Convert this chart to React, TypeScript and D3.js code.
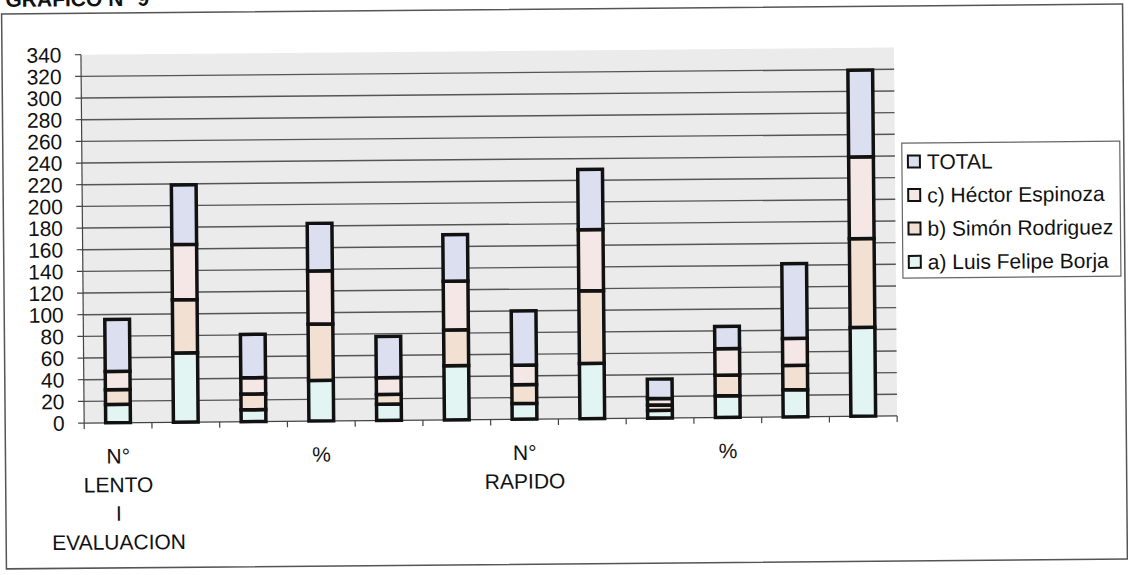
import React from "react";
import * as d3 from "d3";

// ---- data ----
const categoryLabels: string[][] = [
  ["N°", "LENTO", "I", "EVALUACION"], [], [],
  ["%"], [], [],
  ["N°", "RAPIDO"], [], [],
  ["%"], [], [],
];
const seriesNames = ["a) Luis Felipe Borja", "b) Simón Rodriguez", "c) Héctor Espinoza", "TOTAL"];
const luisFelipeBorja = [17, 64, 11, 37.5, 15, 50, 14.5, 51, 7, 20, 25, 82];
const simonRodriguez = [13.5, 49, 14.5, 52, 9, 33, 17.5, 67, 5, 19, 22.5, 82];
const hectorEspinoza = [17, 51, 15, 49, 15.5, 45, 18, 56.5, 6, 24.5, 25, 75.5];
const total = [48, 55, 40, 44, 38, 43, 50, 55.5, 18, 20.5, 69, 80];
const yTicks = [0, 20, 40, 60, 80, 100, 120, 140, 160, 180, 200, 220, 240, 260, 280, 300, 320, 340];
const seriesColors = ["#e3f5f3", "#f2e1d3", "#f5e7e6", "#dcdfef"];
const title = "GRAFICO N° 9";

const W = 1128;
const H = 575;
const FONT = "'Liberation Sans', Arial, sans-serif";

export default function App() {
  const plotL = 83, plotR = 896, plotT = 50.5, plotB = 418.85;
  const idx = categoryLabels.map((_, i) => String(i));
  const x = d3.scaleBand<string>().domain(idx).range([plotL, plotR]).paddingInner(0).paddingOuter(0);
  const y = d3.scaleLinear().domain([0, 340]).range([plotB, plotT]);
  const rows = idx.map((k, i) => ({
    k,
    s0: luisFelipeBorja[i],
    s1: simonRodriguez[i],
    s2: hectorEspinoza[i],
    s3: total[i],
  }));
  const stack = d3.stack<any>().keys(["s0", "s1", "s2", "s3"]);
  const layers = stack(rows);
  const bw = x.bandwidth() * 0.365;

  const legendItems = [3, 2, 1, 0];
  const legX = 903, legY = 146, legW = 218, legH = 135;

  return (
    <svg width={W} height={H} style={{ position: "absolute", left: 0, top: 0, background: "#fff" }} fontFamily={FONT}>
      <rect x={0} y={0} width={W} height={H} fill="#fff" />
      <g transform="rotate(-0.5 564 287)">
        <text x={8} y={2} fontSize={21} fontWeight="bold" fill="#111">{title}</text>
        {/* outer frame */}
        <rect x={4} y={9} width={1121} height={555} fill="none" stroke="#555" strokeWidth={1.5} />
        {/* plot area */}
        <rect x={plotL} y={plotT} width={plotR - plotL} height={plotB - plotT} fill="#ebebeb" />
        {yTicks.filter(t => t > 0 && t < 340).map(t => (
          <line key={"g" + t} x1={plotL} x2={plotR} y1={y(t)} y2={y(t)} stroke="#555" strokeWidth={1.4} />
        ))}
        {/* y axis */}
        <line x1={plotL} x2={plotL} y1={plotT} y2={plotB} stroke="#444" strokeWidth={1.2} />
        {yTicks.map(t => (
          <g key={"t" + t}>
            <line x1={plotL - 6} x2={plotL} y1={y(t)} y2={y(t)} stroke="#444" strokeWidth={1.2} />
            <text x={63.5} y={y(t)} dy="0.36em" textAnchor="end" fontSize={21} fill="#111">{t}</text>
          </g>
        ))}
        {/* x axis */}
        <line x1={plotL} x2={plotR} y1={plotB} y2={plotB} stroke="#444" strokeWidth={1.2} />
        {idx.concat(["end"]).map((k, i) => {
          const xx = plotL + i * x.step();
          return <line key={"xt" + i} x1={xx} x2={xx} y1={plotB} y2={plotB + 6} stroke="#444" strokeWidth={1.2} />;
        })}
        {/* bars */}
        {layers.map((layer, si) => (
          <g key={"l" + si}>
            {layer.map((d, i) => (
              <rect
                key={i}
                x={(x(idx[i]) as number) + (x.bandwidth() - bw) / 2}
                y={y(d[1])}
                width={bw}
                height={y(d[0]) - y(d[1])}
                fill={seriesColors[si]}
                stroke="#111"
                strokeWidth={3.5}
              />
            ))}
          </g>
        ))}
        {/* category labels */}
        {categoryLabels.map((lines, i) => (
          <text key={"c" + i} x={(x(idx[i]) as number) + x.bandwidth() / 2} y={459.5} textAnchor="middle" fontSize={21} fill="#111">
            {lines.map((ln, j) => (
              <tspan key={j} x={(x(idx[i]) as number) + x.bandwidth() / 2} dy={j === 0 ? 0 : 28.7}>{ln}</tspan>
            ))}
          </text>
        ))}
        {/* legend */}
        <rect x={legX} y={legY} width={legW} height={legH} fill="#fff" stroke="#666" strokeWidth={1.2} />
        {legendItems.map((si, j) => {
          const cy = 164.6 + j * 33.45;
          return (
            <g key={"lg" + si}>
              <rect x={909} y={cy - 6} width={12} height={12} fill={seriesColors[si]} stroke="#111" strokeWidth={2} />
              <text x={928} y={cy} dy="0.36em" fontSize={21} fill="#111">{seriesNames[si]}</text>
            </g>
          );
        })}
      </g>
    </svg>
  );
}
